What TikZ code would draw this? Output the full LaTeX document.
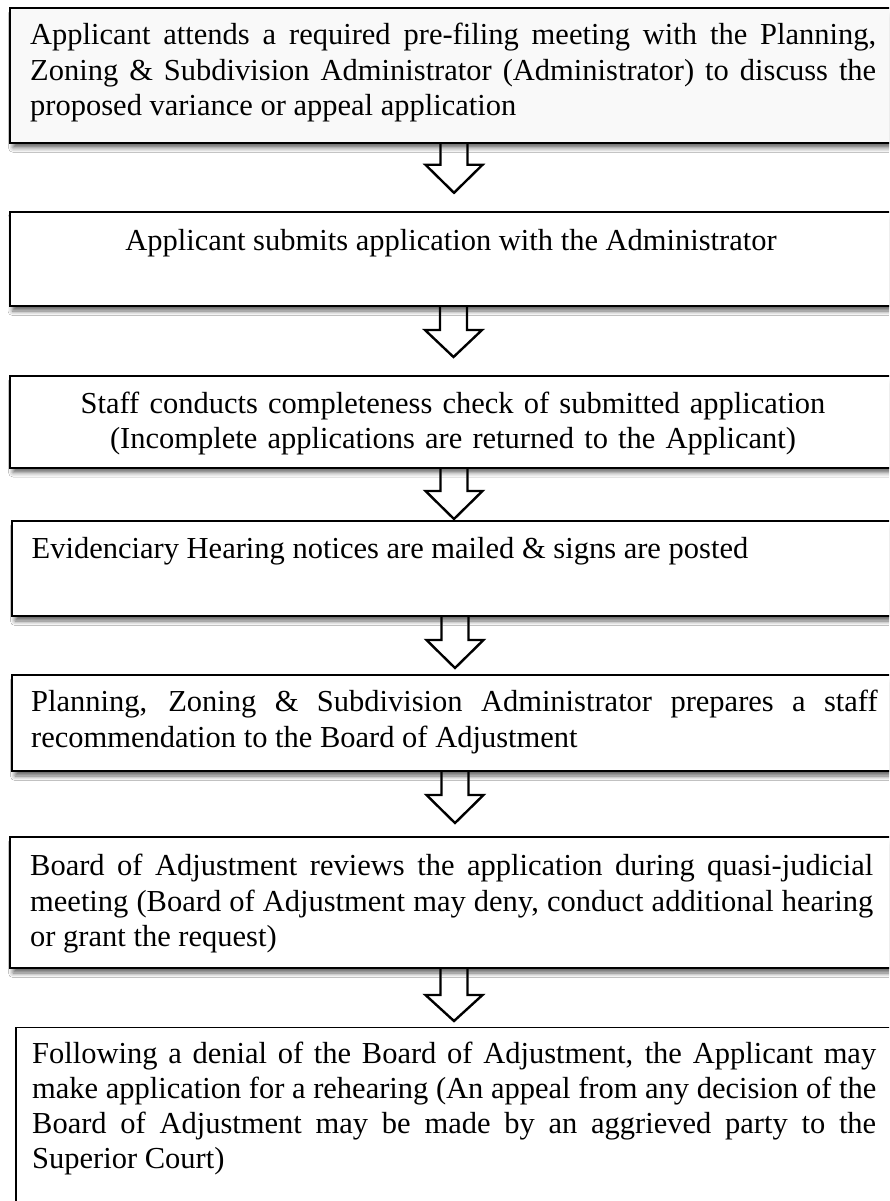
\documentclass[tikz,border=0pt]{standalone}
\usepackage{fontspec}
\setmainfont{Liberation Serif}
\usetikzlibrary{calc,shadows.blur,backgrounds}
\hyphenpenalty=10000
\exhyphenpenalty=10000
\tolerance=9999
\definecolor{boxgray}{RGB}{249,249,249}
\tikzset{
  stepbox/.style={draw=black, line width=2pt, fill=white, rectangle, inner sep=0pt, anchor=north west,
    blur shadow={shadow xshift=3pt, shadow yshift=-5pt, shadow blur radius=4.5pt, shadow opacity=60}},
  lastbox/.style={draw=black, line width=1.6pt, fill=white, rectangle, inner sep=0pt, anchor=north west},
  txt/.style={inner sep=0pt, font=\fontsize{30.5pt}{35.5pt}\selectfont},
  blockarr/.style={draw=black, line width=2.4pt, fill=white, line join=miter}
}
\newcommand{\blockarrow}[3]{% node, shaft length, head length
  \draw[blockarr] ($(#1.south)+(-13.5,0)$) -- ++(0,#2) -- ++(-15,0) -- ++(28.5,#3) -- ++(28.5,-#3) -- ++(-15,0) -- ++(0,-#2);
}
\begin{document}
\begin{tikzpicture}[x=1pt,y=-1pt]
\useasboundingbox (0,0) rectangle (889,1201);
\clip (0,0) rectangle (889,1201);

% boxes
\node[stepbox, fill=boxgray, minimum width=888pt, minimum height=134.5pt] (b1) at (9,7.3) {};
\node[stepbox, minimum width=888pt, minimum height=94pt] (b2) at (8.5,211) {};
\node[stepbox, minimum width=888pt, minimum height=91.5pt] (b3) at (9,375) {};
\node[stepbox, minimum width=886pt, minimum height=95pt] (b4) at (11,520) {};
\node[stepbox, minimum width=886pt, minimum height=96pt] (b5) at (11,674) {};
\node[stepbox, minimum width=888pt, minimum height=131pt] (b6) at (9,836) {};
\node[lastbox, minimum width=882pt, minimum height=200pt] (b7) at (15,1026.5) {};

% page background and arrows (behind the boxes and their shadows)
\begin{pgfonlayer}{background}
\fill[white] (0,0) rectangle (889,1201);
\blockarrow{b1}{21}{28}
\blockarrow{b2}{23}{27}
\blockarrow{b3}{22.5}{28}
\blockarrow{b4}{23}{28}
\blockarrow{b5}{23}{28}
\blockarrow{b6}{26}{26}
\end{pgfonlayer}

% texts
\node[txt, text width=846pt, align=justify, anchor=base west] (t1) at (30,45)
  {Applicant attends a required pre-filing meeting with the Planning,\linebreak
   Zoning \& Subdivision Administrator (Administrator) to discuss the\linebreak
   proposed variance or appeal application};
\node[txt, anchor=base] (t2) at (451,250) {Applicant submits application with the Administrator};
\node[txt, text width=846pt, align=center, anchor=base] (t3) at (453,413)
  {Staff conducts completeness check of submitted application\\
   (Incomplete applications are returned to the Applicant)};
\node[txt, anchor=base west] (t4) at (31.5,558) {Evidenciary Hearing notices are mailed \& signs are posted};
\node[txt, text width=846.5pt, align=justify, anchor=base west] (t5) at (31,711.5)
  {Planning, Zoning \& Subdivision Administrator prepares a staff\linebreak
   recommendation to the Board of Adjustment};
\node[txt, text width=843pt, align=justify, anchor=base west] (t6) at (30,875.5)
  {Board of Adjustment reviews the application during quasi-judicial\linebreak
   meeting (Board of Adjustment may deny, conduct additional hearing\linebreak
   or grant the request)};
\node[txt, text width=844pt, align=justify, anchor=base west, font=\fontsize{30.5pt}{35pt}\selectfont] (t7) at (32,1063.5)
  {Following a denial of the Board of Adjustment, the Applicant may\linebreak
   make application for a rehearing (An appeal from any decision of the\linebreak
   Board of Adjustment may be made by an aggrieved party to the\linebreak
   Superior Court)};
\end{tikzpicture}
\end{document}
